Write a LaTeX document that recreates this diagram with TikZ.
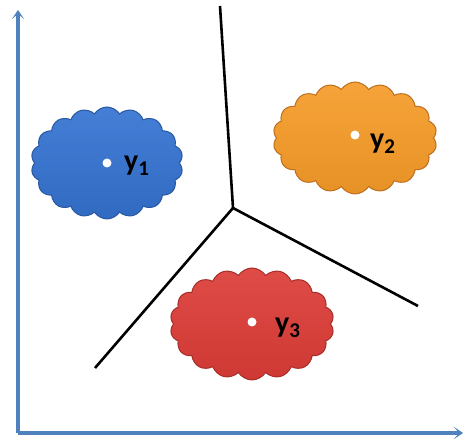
\documentclass[tikz,border=0pt]{standalone}
\usepackage{fontspec}
\setmainfont{Carlito}
\usetikzlibrary{shapes.symbols, arrows.meta}
\definecolor{axisblue}{RGB}{79,129,189}
\definecolor{blueblob}{RGB}{52,115,210}
\definecolor{blueedge}{RGB}{40,88,160}
\definecolor{orangeblob}{RGB}{245,155,40}
\definecolor{orangeedge}{RGB}{190,110,30}
\definecolor{redblob}{RGB}{220,60,55}
\definecolor{rededge}{RGB}{165,45,40}

\begin{document}
\begin{tikzpicture}[x=1pt,y=1pt,
  axis/.style={draw=axisblue, line width=4pt, -{Stealth[length=9pt,width=12pt,inset=5pt]}},
  border/.style={black, line width=2.6pt},
  blob/.style={cloud, cloud puffs=18, cloud puff arc=115, inner sep=0pt, line width=1pt,
    minimum height=112pt},
  centre/.style={circle, fill=white, inner sep=0pt, minimum size=9pt},
  lbl/.style={font=\fontsize{30}{30}\selectfont\bfseries, anchor=west, inner sep=0pt}]
  \useasboundingbox (0,0) rectangle (465,446);
  \coordinate (o) at (18,13);
  \coordinate (ytop) at (18,436);
  \coordinate (xend) at (463,13);
  \draw[axis] (o) -- (ytop);
  \draw[axis] (o) -- (xend);

  \coordinate (m) at (233,238);
  \coordinate (b1) at (220,440);
  \coordinate (b2) at (418,140);
  \coordinate (b3) at (95,78);
  \draw[border] (b1) -- (m) -- (b2);
  \draw[border] (m) -- (b3);

  \node[blob, minimum width=152pt, draw=blueedge, top color=blueblob!92!white,
    bottom color=blueblob!92!black] (c1) at (107,283) {};
  \node[blob, minimum width=164pt, draw=orangeedge, top color=orangeblob!92!white,
    bottom color=orangeblob!94!black] (c2) at (355,308) {};
  \node[blob, minimum width=164pt, draw=rededge, top color=redblob!92!white,
    bottom color=redblob!94!black] (c3) at (252,122) {};

  \node[centre] (p1) at (107,283) {};
  \node[centre] (p2) at (355,311) {};
  \node[centre] (p3) at (252,124) {};

  \node[lbl] (y1) at (124,280) {y\textsubscript{1}};
  \node[lbl] (y2) at (370,302) {y\textsubscript{2}};
  \node[lbl] (y3) at (275,118) {y\textsubscript{3}};
\end{tikzpicture}
\end{document}
